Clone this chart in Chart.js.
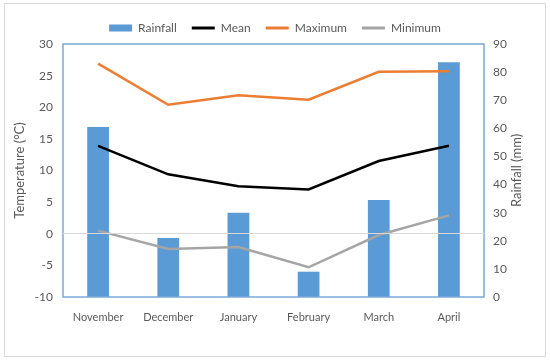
<!DOCTYPE html>
<html>
<head>
<meta charset="utf-8">
<script src="https://cdn.jsdelivr.net/npm/chart.js@4.4.0/dist/chart.umd.min.js"></script>
<style>
  body { margin: 0; background: #fff; }
</style>
</head>
<body>
<canvas id="chart" width="550" height="362"></canvas>
<script>
const months = ['November', 'December', 'January', 'February', 'March', 'April'];
const rainfall = [60.5, 21, 30, 9, 34.5, 83.5];
const meanTemp = [13.9, 9.4, 7.5, 7.0, 11.5, 13.9];
const maxTemp = [26.9, 20.4, 21.9, 21.2, 25.6, 25.7];
const minTemp = [0.5, -2.4, -2.1, -5.3, -0.2, 2.9];

const grey = '#595959';
const fontName = 'Lato, "Liberation Sans", sans-serif';

// outer frame, blue box round the plot area, right axis title (reads upwards like Excel)
const framePlugin = {
    id: 'frame',
    beforeDraw(chart) {
        const ctx = chart.ctx;
        ctx.save();
        ctx.fillStyle = '#fff';
        ctx.fillRect(0, 0, chart.width, chart.height);
        ctx.strokeStyle = '#d9d9d9';
        ctx.lineWidth = 1;
        ctx.strokeRect(4.5, 3.5, 541, 353);
        ctx.restore();
    },
    afterDatasetsDraw(chart) {
        const a = chart.chartArea;
        const ctx = chart.ctx;
        ctx.save();
        ctx.strokeStyle = '#7aa8d8';
        ctx.lineWidth = 1.5;
        ctx.strokeRect(a.left, a.top, a.right - a.left, a.bottom - a.top);
        ctx.restore();
    },
    afterDraw(chart) {
        const s = chart.scales.y1;
        const ctx = chart.ctx;
        ctx.save();
        ctx.translate(517, (s.top + s.bottom) / 2);
        ctx.rotate(-Math.PI / 2);
        ctx.fillStyle = grey;
        ctx.font = '13px ' + fontName;
        ctx.textAlign = 'center';
        ctx.textBaseline = 'middle';
        ctx.fillText('Rainfall (mm)', 0, 0);
        ctx.restore();
    }
};

function lineSet(label, data, color) {
    return {
        type: 'line',
        label: label,
        data: data,
        borderColor: color,
        backgroundColor: color,
        borderWidth: 2.5,
        pointRadius: 0,
        tension: 0,
        yAxisID: 'y',
        order: 0
    };
}

new Chart(document.getElementById('chart'), {
    type: 'bar',
    data: {
        labels: months,
        datasets: [
            {
                label: 'Rainfall',
                data: rainfall,
                backgroundColor: '#5b9bd5',
                yAxisID: 'y1',
                categoryPercentage: 1,
                barPercentage: 0.31,
                order: 1
            },
            lineSet('Mean', meanTemp, '#000000'),
            lineSet('Maximum', maxTemp, '#ed7d31'),
            lineSet('Minimum', minTemp, '#a5a5a5')
        ]
    },
    options: {
        responsive: false,
        animation: false,
        layout: { padding: { top: 7, left: 0, right: 0, bottom: 0 } },
        plugins: {
            tooltip: { enabled: false },
            legend: {
                position: 'top',
                labels: {
                    usePointStyle: true,
                    pointStyleWidth: 23,
                    boxHeight: 7,
                    padding: 15,
                    color: grey,
                    font: { family: fontName, size: 12 },
                    sort: (a, b) => a.datasetIndex - b.datasetIndex,
                    generateLabels(chart) {
                        const items = Chart.defaults.plugins.legend.labels.generateLabels(chart);
                        items.forEach(it => {
                            const ds = chart.data.datasets[it.datasetIndex];
                            if (ds.type === 'line') {
                                it.pointStyle = 'line';
                                it.lineWidth = 3;
                                it.strokeStyle = ds.borderColor;
                            } else {
                                it.pointStyle = 'rect';
                                it.lineWidth = 0;
                            }
                        });
                        return items;
                    }
                }
            }
        },
        scales: {
            x: {
                grid: { display: false, drawTicks: false },
                border: { display: false },
                ticks: { color: grey, padding: 14, font: { family: fontName, size: 11 } },
                afterFit(s) { s.height = 65; }
            },
            y: {
                position: 'left',
                min: -10,
                max: 30,
                ticks: { stepSize: 5, color: grey, padding: 10, font: { family: fontName, size: 12 } },
                grid: {
                    drawTicks: false,
                    z: 1,
                    color: c => c.tick && c.tick.value === 0 ? '#d9d9d9' : 'transparent'
                },
                border: { display: false },
                title: {
                    display: true,
                    text: 'Temperature (°C)',
                    color: grey,
                    font: { family: fontName, size: 13 },
                    padding: { top: 12, bottom: 0 }
                },
                afterFit(s) { s.width = 63; }
            },
            y1: {
                position: 'right',
                min: 0,
                max: 90,
                ticks: { stepSize: 10, color: grey, padding: 9, font: { family: fontName, size: 12 } },
                grid: { display: false, drawTicks: false },
                border: { display: false },
                afterFit(s) { s.width = 66; }
            }
        }
    },
    plugins: [framePlugin]
});
</script>
</body>
</html>
